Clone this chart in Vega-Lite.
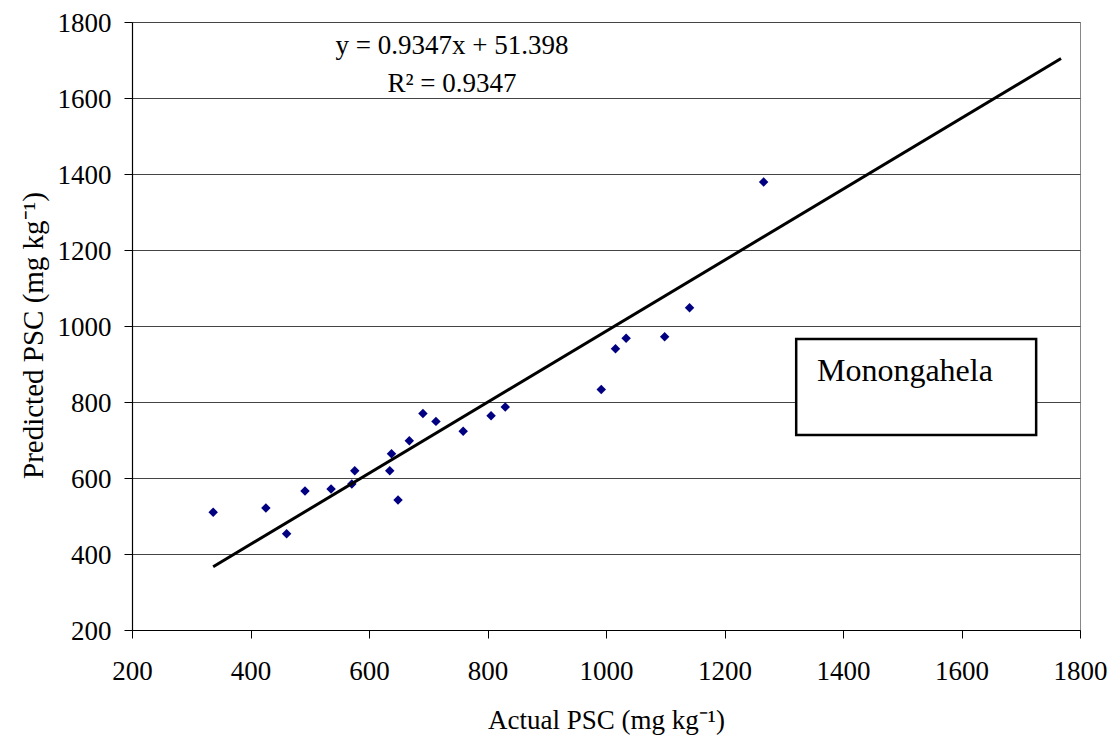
{
  "$schema": "https://vega.github.io/schema/vega-lite/v6.json",
  "width": 948,
  "height": 608,
  "autosize": {"type": "none"},
  "padding": {"left": 132, "top": 22, "right": 32, "bottom": 111},
  "background": "white",
  "config": {
    "font": "Liberation Serif",
    "view": {"stroke": "#888888", "strokeWidth": 1},
    "axis": {
      "domainColor": "black",
      "domainWidth": 1.2,
      "tickColor": "black",
      "tickWidth": 1,
      "tickSize": 8,
      "labelColor": "black",
      "labelFont": "Liberation Serif",
      "labelFontSize": 27,
      "titleFont": "Liberation Serif",
      "titleFontWeight": "normal",
      "titleColor": "black",
      "gridColor": "#444444",
      "gridWidth": 1
    }
  },
  "datasets": {
    "points": [
      {"actual": 337, "predicted": 510},
      {"actual": 426, "predicted": 521},
      {"actual": 461, "predicted": 453},
      {"actual": 492, "predicted": 566},
      {"actual": 536, "predicted": 571},
      {"actual": 571, "predicted": 584},
      {"actual": 576, "predicted": 619},
      {"actual": 635, "predicted": 619},
      {"actual": 638, "predicted": 664},
      {"actual": 649, "predicted": 542},
      {"actual": 668, "predicted": 698},
      {"actual": 691, "predicted": 770},
      {"actual": 713, "predicted": 749},
      {"actual": 759, "predicted": 723},
      {"actual": 806, "predicted": 764},
      {"actual": 830, "predicted": 787},
      {"actual": 992, "predicted": 833},
      {"actual": 1016, "predicted": 940},
      {"actual": 1034, "predicted": 968},
      {"actual": 1099, "predicted": 972},
      {"actual": 1141, "predicted": 1048},
      {"actual": 1266, "predicted": 1379}
    ],
    "fit": [
      {"actual": 337, "predicted": 366.4},
      {"actual": 1768, "predicted": 1703.9}
    ],
    "equation": [
      {"actual": 740, "predicted": 1716, "label": "y = 0.9347x + 51.398"},
      {"actual": 740, "predicted": 1616, "label": "R² = 0.9347"}
    ],
    "box": [
      {"x1": 1321, "x2": 1726, "y1": 713, "y2": 966}
    ],
    "boxlabel": [
      {"actual": 1356, "predicted": 855, "label": "Monongahela"}
    ]
  },
  "layer": [
    {
      "data": {"name": "points"},
      "mark": {"type": "point", "shape": "diamond", "filled": true, "color": "#000080", "size": 90, "opacity": 1, "strokeWidth": 0},
      "encoding": {
        "x": {
          "field": "actual", "type": "quantitative",
          "scale": {"domain": [200, 1800], "nice": false, "zero": false},
          "axis": {
            "values": [200, 400, 600, 800, 1000, 1200, 1400, 1600, 1800],
            "format": "d",
            "grid": false,
            "labelFlush": false,
            "labelOverlap": false,
            "labelFontSize": 27,
            "labelFont": "Liberation Serif",
            "labelPadding": 20,
            "title": "Actual PSC (mg kg⁻¹)",
            "titleFontSize": 27,
            "titleBaseline": "alphabetic",
            "titleY": 98
          }
        },
        "y": {
          "field": "predicted", "type": "quantitative",
          "scale": {"domain": [200, 1800], "nice": false, "zero": false},
          "axis": {
            "values": [200, 400, 600, 800, 1000, 1200, 1400, 1600, 1800],
            "format": "d",
            "grid": true,
            "labelFlush": false,
            "labelOverlap": false,
            "labelFontSize": 27,
            "labelFont": "Liberation Serif",
            "labelPadding": 13,
            "labelOffset": 1,
            "title": "Predicted PSC (mg kg⁻¹)",
            "titleFontSize": 29,
            "titleAngle": -90,
            "titleBaseline": "alphabetic",
            "titleX": -90,
            "titleY": 313
          }
        }
      }
    },
    {
      "data": {"name": "fit"},
      "mark": {"type": "line", "color": "black", "strokeWidth": 3},
      "encoding": {
        "x": {"field": "actual", "type": "quantitative"},
        "y": {"field": "predicted", "type": "quantitative"}
      }
    },
    {
      "data": {"name": "box"},
      "mark": {"type": "rect", "fill": "white", "stroke": "black", "strokeWidth": 2.5},
      "encoding": {
        "x": {"field": "x1", "type": "quantitative"},
        "x2": {"field": "x2"},
        "y": {"field": "y1", "type": "quantitative"},
        "y2": {"field": "y2"}
      }
    },
    {
      "data": {"name": "boxlabel"},
      "mark": {"type": "text", "align": "left", "baseline": "alphabetic", "fontSize": 32, "color": "black", "font": "Liberation Serif"},
      "encoding": {
        "x": {"field": "actual", "type": "quantitative"},
        "y": {"field": "predicted", "type": "quantitative"},
        "text": {"field": "label"}
      }
    },
    {
      "data": {"name": "equation"},
      "mark": {"type": "text", "align": "center", "baseline": "alphabetic", "fontSize": 27, "color": "black", "font": "Liberation Serif"},
      "encoding": {
        "x": {"field": "actual", "type": "quantitative"},
        "y": {"field": "predicted", "type": "quantitative"},
        "text": {"field": "label"}
      }
    }
  ]
}
